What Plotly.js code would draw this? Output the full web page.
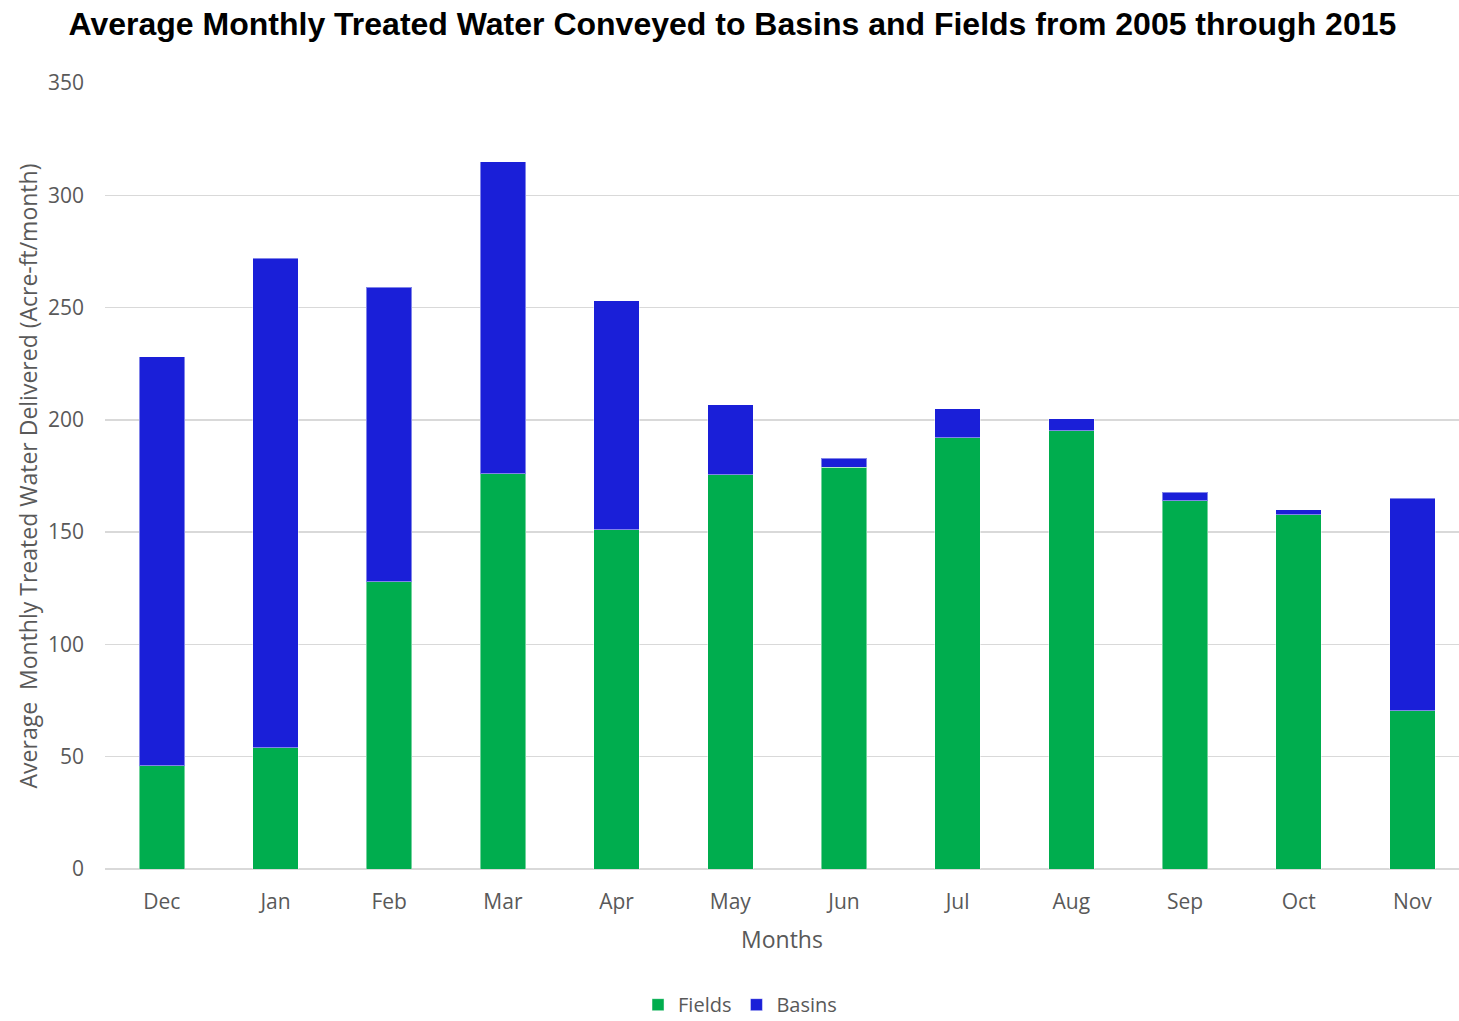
<!DOCTYPE html>
<html>
<head>
<meta charset="utf-8">
<script src="https://cdn.plot.ly/plotly-3.0.1.min.js"></script>
<style>html,body{margin:0;padding:0;background:#fff;}#chart{width:1459px;height:1021px;}</style>
</head>
<body>
<div id="chart"></div>
<script>
const months = ["Dec","Jan","Feb","Mar","Apr","May","Jun","Jul","Aug","Sep","Oct","Nov"];
const fields = [46, 54, 128, 176, 151, 175.5, 179, 192, 195.2, 164, 157.7, 70.5];
const basins = [182, 218, 131, 139, 102, 31.2, 3.9, 13, 5.2, 3.7, 2.2, 94.5];
const yTicks = [0, 50, 100, 150, 200, 250, 300, 350];

const barLine = {color: "rgba(255,255,255,0.45)", width: 1};
const data = [
  {type: "bar", name: "Fields", x: months, y: fields, marker: {color: "#00AD4E", line: barLine}},
  {type: "bar", name: "Basins", x: months, y: basins, marker: {color: "#1A1FD8", line: barLine}}
];

const tickFont = {family: "Open Sans, sans-serif", size: 21, color: "#595959"};
const layout = {
  width: 1459, height: 1021,
  barmode: "stack", bargap: 0.6,
  paper_bgcolor: "#fff", plot_bgcolor: "#fff",
  margin: {l: 105, r: 0, t: 83, b: 152, autoexpand: false},
  title: {
    text: "<b>Average Monthly Treated Water Conveyed to Basins and Fields from 2005 through 2015</b>",
    font: {family: "Liberation Sans, Arial, sans-serif", size: 32, color: "#000"},
    xref: "container", x: 0.502, xanchor: "center",
    yref: "container", y: 0.977, yanchor: "middle"
  },
  xaxis: {
    range: [-0.5, 11.41], tickfont: tickFont, showgrid: false, ticks: "",
    showline: false, zeroline: false, ticklabelstandoff: 18, automargin: false,
    title: {text: "Months", font: {family: "Open Sans, sans-serif", size: 23, color: "#595959"}, standoff: 17}
  },
  yaxis: {
    range: [0, 350], tickvals: yTicks, tickfont: tickFont, automargin: false,
    gridcolor: "#D9D9D9", gridwidth: 1.5, zeroline: true, zerolinecolor: "#D9D9D9", zerolinewidth: 1.5,
    showline: false, ticks: "", ticklabelstandoff: 20,
    title: {text: "Average  Monthly Treated Water Delivered (Acre-ft/month)", font: {family: "Open Sans, sans-serif", size: 23, color: "#595959"}, standoff: 3}
  },
  legend: {
    orientation: "h", x: 0.469, xanchor: "center", yref: "container", y: 0.016, yanchor: "middle",
    font: {family: "Open Sans, sans-serif", size: 20, color: "#595959"}, traceorder: "normal"
  },
  showlegend: true
};
Plotly.newPlot("chart", data, layout, {displayModeBar: false, staticPlot: true});
</script>
</body>
</html>
